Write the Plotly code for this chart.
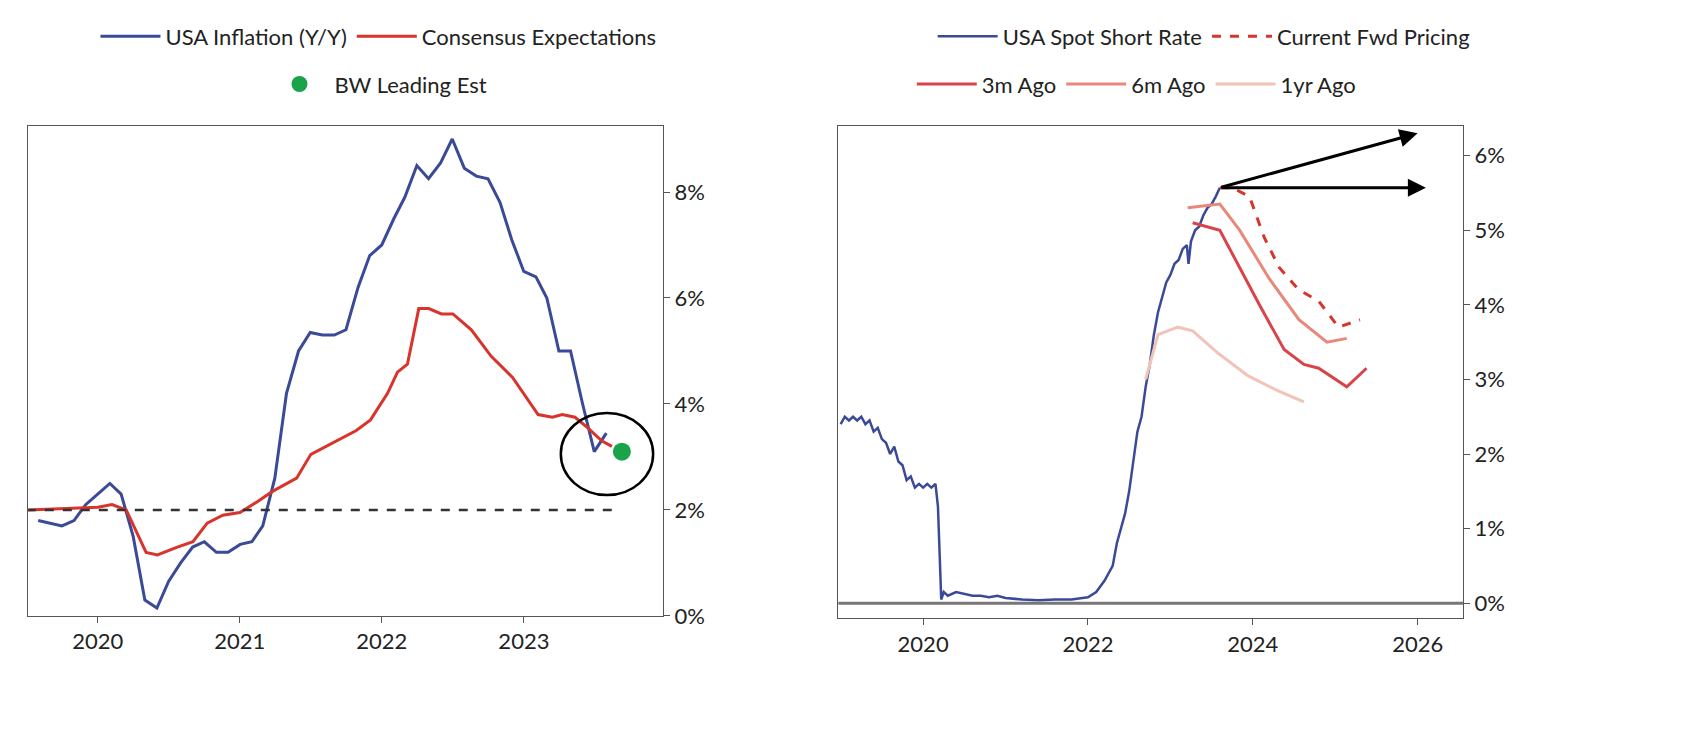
import plotly.graph_objects as go
import pandas as pd

# Left: CPI monthly (month-end dates) Jul 2019 - Jul 2023
cpi_start = "2019-07-31"
cpi_vals = [1.8,1.75,1.7,1.8,2.1,2.3,2.5,2.3,1.5,0.3,0.15,0.65,1.0,1.3,1.4,1.2,1.2,1.35,1.4,1.7,2.6,4.2,5.0,5.35,5.3,5.3,5.4,6.2,6.8,7.0,7.5,7.9,8.5,8.25,8.55,9.0,8.45,8.3,8.25,7.8,7.1,6.5,6.4,6.0,5.0,5.0,4.0,3.1,3.45]
cpi_dates = pd.date_range(cpi_start, periods=len(cpi_vals), freq="ME")

cons_x = [2019.5,2020.0,2020.1,2020.2,2020.34,2020.42,2020.56,2020.67,2020.77,2020.88,2021.0,2021.12,2021.23,2021.4,2021.5,2021.68,2021.82,2021.92,2022.04,2022.11,2022.18,2022.26,2022.33,2022.42,2022.5,2022.63,2022.77,2022.92,2023.02,2023.1,2023.2,2023.27,2023.36,2023.45,2023.55,2023.62]
cons_y = [2.0,2.05,2.1,2.0,1.2,1.15,1.3,1.4,1.75,1.9,1.95,2.15,2.35,2.6,3.05,3.3,3.5,3.7,4.2,4.6,4.75,5.8,5.8,5.7,5.7,5.4,4.9,4.5,4.1,3.8,3.75,3.8,3.75,3.55,3.3,3.2]
bw_x = [2023.69]
bw_y = [3.1]

# Right: spot short rate
spot_x = [2019.0,2019.05,2019.1,2019.15,2019.2,2019.25,2019.3,2019.35,2019.4,2019.45,2019.5,2019.55,2019.6,2019.65,2019.7,2019.75,2019.8,2019.85,2019.9,2019.95,2020.0,2020.05,2020.1,2020.15,2020.18,2020.2,2020.22,2020.25,2020.3,2020.4,2020.5,2020.6,2020.7,2020.8,2020.9,2021.0,2021.2,2021.4,2021.6,2021.8,2022.0,2022.1,2022.2,2022.3,2022.35,2022.4,2022.45,2022.5,2022.55,2022.6,2022.65,2022.7,2022.75,2022.8,2022.85,2022.9,2022.95,2023.0,2023.05,2023.1,2023.15,2023.2,2023.22,2023.25,2023.3,2023.35,2023.4,2023.45,2023.5,2023.55,2023.6]
spot_y = [2.4,2.5,2.45,2.5,2.45,2.5,2.4,2.45,2.3,2.35,2.2,2.15,2.0,2.1,1.9,1.85,1.65,1.7,1.55,1.6,1.55,1.6,1.55,1.6,1.3,0.6,0.05,0.15,0.1,0.15,0.12,0.1,0.1,0.08,0.1,0.07,0.05,0.04,0.05,0.05,0.08,0.15,0.3,0.5,0.8,1.0,1.2,1.5,1.9,2.3,2.5,2.9,3.2,3.6,3.9,4.1,4.3,4.4,4.55,4.6,4.75,4.8,4.55,4.85,5.0,5.05,5.2,5.3,5.35,5.45,5.57]

fwd_x = [2023.6,2023.75,2023.96,2024.14,2024.32,2024.56,2024.8,2025.04,2025.3]
fwd_y = [5.57,5.57,5.45,4.9,4.5,4.2,4.05,3.7,3.8]
m3_x = [2023.27,2023.6,2023.84,2024.08,2024.38,2024.62,2024.8,2025.14,2025.38]
m3_y = [5.1,5.0,4.5,4.0,3.4,3.2,3.15,2.9,3.15]
m6_x = [2023.21,2023.6,2023.84,2024.2,2024.56,2024.9,2025.14]
m6_y = [5.3,5.35,5.0,4.35,3.8,3.5,3.55]
y1_x = [2022.7,2022.85,2023.09,2023.27,2023.58,2023.94,2024.3,2024.62]
y1_y = [3.0,3.6,3.7,3.65,3.35,3.05,2.85,2.7]

left_ticks = [0, 2, 4, 6, 8]
right_ticks = [0, 1, 2, 3, 4, 5, 6]

BLUE = "#3a4a97"; RED = "#d9342b"; RED6 = "#e8887a"; RED1 = "#f2c4b8"

fig = go.Figure()
fig.add_trace(go.Scatter(x=[d.year + (d.dayofyear)/365.25 for d in cpi_dates], y=cpi_vals, mode="lines",
                         line=dict(color=BLUE, width=3), name="USA Inflation (Y/Y)", legend="legend"))
fig.add_trace(go.Scatter(x=cons_x, y=cons_y, mode="lines", line=dict(color=RED, width=3),
                         name="Consensus Expectations", legend="legend"))
fig.add_trace(go.Scatter(x=bw_x, y=bw_y, mode="markers", marker=dict(color="#1aa34a", size=18),
                         name="BW Leading Est", legend="legend3"))
fig.add_trace(go.Scatter(x=[2019.5, 2023.67], y=[2, 2], mode="lines", line=dict(color="#333", width=2.5, dash="dash"),
                         showlegend=False))

fig.add_trace(go.Scatter(x=spot_x, y=spot_y, mode="lines", line=dict(color=BLUE, width=2.5),
                         name="USA Spot Short Rate", xaxis="x2", yaxis="y2", legend="legend2"))
fig.add_trace(go.Scatter(x=fwd_x, y=fwd_y, mode="lines", line=dict(color=RED, width=3, dash="dash"),
                         name="Current Fwd Pricing", xaxis="x2", yaxis="y2", legend="legend2"))
fig.add_trace(go.Scatter(x=m3_x, y=m3_y, mode="lines", line=dict(color="#d9444a", width=3),
                         name="3m Ago", xaxis="x2", yaxis="y2", legend="legend4"))
fig.add_trace(go.Scatter(x=m6_x, y=m6_y, mode="lines", line=dict(color=RED6, width=3),
                         name="6m Ago", xaxis="x2", yaxis="y2", legend="legend4"))
fig.add_trace(go.Scatter(x=y1_x, y=y1_y, mode="lines", line=dict(color=RED1, width=3),
                         name="1yr Ago", xaxis="x2", yaxis="y2", legend="legend4"))
fig.add_trace(go.Scatter(x=[2018.97, 2026.55], y=[0, 0], mode="lines", line=dict(color="#777", width=3),
                         showlegend=False, xaxis="x2", yaxis="y2"))

axcommon = dict(showgrid=False, zeroline=False, showline=True, linecolor="#555", linewidth=1, mirror=True,
                ticks="outside", ticklen=6, tickcolor="#555", tickfont=dict(size=22, color="#222"))
lg = dict(orientation="h", xanchor="center", yanchor="top", font=dict(size=22), itemwidth=60,
          bgcolor="rgba(0,0,0,0)")
fig.update_layout(
    width=1684, height=736, plot_bgcolor="white", paper_bgcolor="white",
    margin=dict(l=0, r=0, t=0, b=0, autoexpand=False),
    font=dict(family="Lato, DejaVu Sans", size=22, color="#222"),
    xaxis=dict(domain=[0.012, 0.389], range=[2019.51, 2023.98], tickvals=[2020, 2021, 2022, 2023],
               ticktext=["2020", "2021", "2022", "2023"], **axcommon),
    yaxis=dict(domain=[0.174, 0.840], range=[0, 9.25], side="right", tickvals=left_ticks,
               ticktext=[f"{v}%" for v in left_ticks], **axcommon),
    xaxis2=dict(domain=[0.493, 0.864], range=[2018.97, 2026.55], tickvals=[2020, 2022, 2024, 2026],
                ticktext=["2020", "2022", "2024", "2026"], anchor="y2", **axcommon),
    yaxis2=dict(domain=[0.171, 0.840], range=[-0.2, 6.4], side="right", anchor="x2",
                tickvals=right_ticks, ticktext=[f"{v}%" for v in right_ticks], **axcommon),
    legend=dict(x=0.22, y=0.99, **lg),
    legend3=dict(x=0.22, y=0.925, **lg),
    legend2=dict(x=0.71, y=0.99, **lg),
    legend4=dict(x=0.67, y=0.925, **lg),
    showlegend=True,
)

fig.add_shape(type="circle", xref="x", yref="y", x0=2023.26, x1=2023.91, y0=2.28, y1=3.83,
              line=dict(color="black", width=2.5))
for tx, ty in [(2026.0, 6.3), (2026.1, 5.57)]:
    fig.add_annotation(x=tx, y=ty, ax=2023.6, ay=5.57, xref="x2", yref="y2", axref="x2", ayref="y2",
                       showarrow=True, arrowhead=2, arrowsize=1.2, arrowwidth=3, arrowcolor="black", text="")

fig.write_html("out.html")
